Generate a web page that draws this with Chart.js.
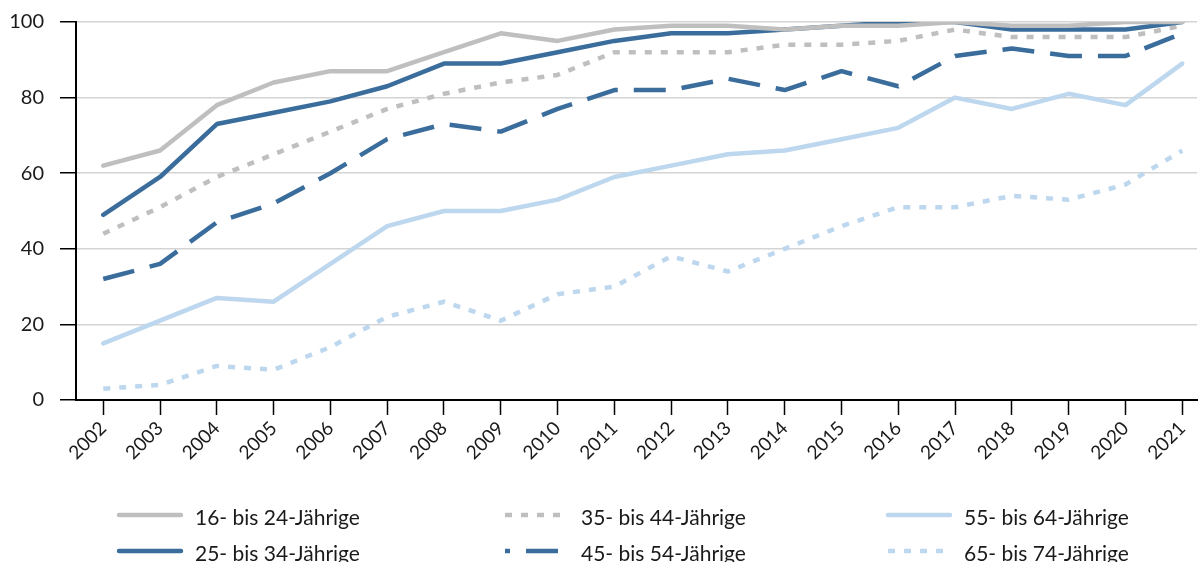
<!DOCTYPE html>
<html lang="de">
<head>
<meta charset="UTF-8">
<title>Internetnutzung nach Altersgruppen</title>
<script src="https://cdn.jsdelivr.net/npm/chart.js@4.4.1/dist/chart.umd.min.js"></script>
<style>
    body { margin: 0; background: #fff; }
    #wrap { width: 1198px; height: 562px; }
</style>
</head>
<body>
<div id="wrap"><canvas id="chart" width="1198" height="562"></canvas></div>
<script>
// data (Anteil in %)
var years = [2002, 2003, 2004, 2005, 2006, 2007, 2008, 2009, 2010, 2011,
             2012, 2013, 2014, 2015, 2016, 2017, 2018, 2019, 2020, 2021];
var yTicks = [0, 20, 40, 60, 80, 100];
var groupNames = ['16- bis 24-Jährige', '25- bis 34-Jährige', '35- bis 44-Jährige',
                  '45- bis 54-Jährige', '55- bis 64-Jährige', '65- bis 74-Jährige'];

var age16to24 = [62, 66, 78, 84, 87, 87, 92, 97, 95, 98, 99, 99, 98, 99, 99, 100, 99, 99, 100, 100];
var age25to34 = [49, 59, 73, 76, 79, 83, 89, 89, 92, 95, 97, 97, 98, 99, 100, 100, 98, 98, 98, 100];
var age35to44 = [44, 51, 59, 65, 71, 77, 81, 84, 86, 92, 92, 92, 94, 94, 95, 98, 96, 96, 96, 99];
var age45to54 = [32, 36, 47, 52, 60, 69, 73, 71, 77, 82, 82, 85, 82, 87, 83, 91, 93, 91, 91, 97];
var age55to64 = [15, 21, 27, 26, 36, 46, 50, 50, 53, 59, 62, 65, 66, 69, 72, 80, 77, 81, 78, 89];
var age65to74 = [3, 4, 9, 8, 14, 22, 26, 21, 28, 30, 38, 34, 40, 46, 51, 51, 54, 53, 57, 66];

var GRAY = '#bfbfbf';
var DARK = '#3a6d9c';
var LIGHT = '#bdd7ee';
var DOTS = [7, 9];
var DASH = [32, 16];

function points(values) {
    return values.map(function (v, i) { return { x: years[i], y: v }; });
}

function series(name, values, color, dash) {
    return {
        label: name,
        data: points(values),
        borderColor: color,
        backgroundColor: color,
        borderWidth: 4.5,
        borderDash: dash || [],
        borderCapStyle: dash ? 'butt' : 'round',
        borderJoinStyle: 'round',
        pointRadius: 0,
        pointHoverRadius: 0,
        fill: false,
        tension: 0
    };
}

function noPadding(scale) {
    scale.paddingTop = 0;
    scale.paddingBottom = 0;
    scale.paddingLeft = 0;
    scale.paddingRight = 0;
}

// legend below the chart, three columns of two rows
var bottomLegend = {
    id: 'bottomLegend',
    afterDraw: function (chart) {
        var ctx = chart.ctx;
        var cols = [119, 505, 888];
        var rows = [515, 551];
        chart.data.datasets.forEach(function (ds, i) {
            var x = cols[Math.floor(i / 2)];
            var y = rows[i % 2];
            ctx.save();
            ctx.strokeStyle = ds.borderColor;
            ctx.lineWidth = ds.borderWidth;
            ctx.setLineDash(ds.borderDash);
            ctx.lineDashOffset = ds.borderDash === DASH ? 27 : 0;
            ctx.lineCap = ds.borderCapStyle;
            ctx.beginPath();
            ctx.moveTo(x, y);
            ctx.lineTo(x + 62, y);
            ctx.stroke();
            ctx.setLineDash([]);
            ctx.fillStyle = '#1a1a1a';
            ctx.font = '21px Lato';
            ctx.textBaseline = 'middle';
            ctx.fillText(ds.label, x + 76, y + 3);
            ctx.restore();
        });
    }
};

var ctx = document.getElementById('chart').getContext('2d');
var chart = new Chart(ctx, {
    type: 'line',
    data: {
        datasets: [
            series(groupNames[0], age16to24, GRAY),
            series(groupNames[1], age25to34, DARK),
            series(groupNames[2], age35to44, GRAY, DOTS),
            series(groupNames[3], age45to54, DARK, DASH),
            series(groupNames[4], age55to64, LIGHT),
            series(groupNames[5], age65to74, LIGHT, DOTS)
        ]
    },
    options: {
        responsive: false,
        animation: false,
        devicePixelRatio: 1,
        layout: { padding: { top: 22, right: 1, left: 0, bottom: 0 } },
        plugins: {
            legend: { display: false },
            tooltip: { enabled: false }
        },
        scales: {
            x: {
                type: 'linear',
                min: 2001.52,
                max: 2021.26,
                afterBuildTicks: function (scale) {
                    scale.ticks = years.map(function (v) { return { value: v }; });
                },
                afterFit: function (scale) { scale.height = 162; noPadding(scale); },
                grid: { drawOnChartArea: false, drawTicks: true, tickLength: 15, tickColor: '#000', tickWidth: 1.5 },
                border: { color: '#000', width: 2 },
                ticks: {
                    autoSkip: false,
                    minRotation: 45,
                    maxRotation: 45,
                    padding: 2,
                    color: '#1a1a1a',
                    font: { family: 'Lato', size: 19 },
                    callback: function (v) { return String(v); }
                }
            },
            y: {
                min: 0,
                max: 100,
                afterBuildTicks: function (scale) {
                    scale.ticks = yTicks.map(function (v) { return { value: v }; });
                },
                afterFit: function (scale) { scale.width = 76; noPadding(scale); },
                grid: {
                    color: function (c) { return c.tick && c.tick.value === 0 ? 'rgba(0,0,0,0)' : '#d4d4d4'; },
                    lineWidth: 1.5,
                    tickLength: 16,
                    tickColor: '#000',
                    tickWidth: 1.5
                },
                border: { color: '#000', width: 2 },
                ticks: {
                    padding: 16,
                    color: '#1a1a1a',
                    font: { family: 'Lato', size: 20 }
                }
            }
        }
    },
    plugins: [bottomLegend]
});
</script>
</body>
</html>
